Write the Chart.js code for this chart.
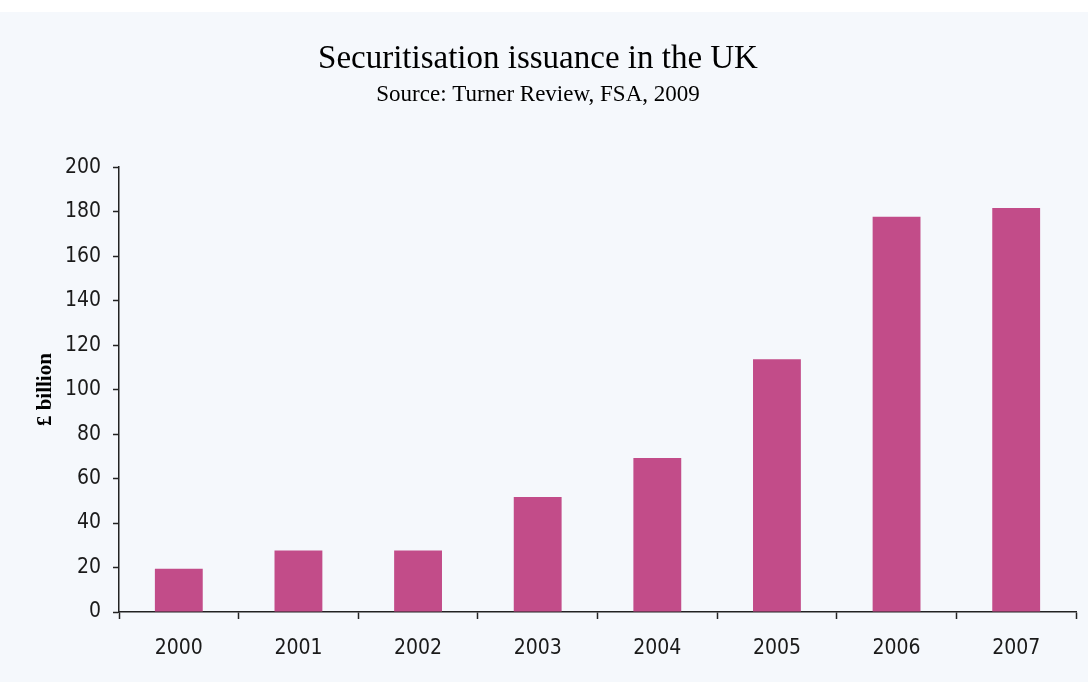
<!DOCTYPE html>
<html>
<head>
<meta charset="utf-8">
<script src="https://cdn.jsdelivr.net/npm/chart.js@4"></script>
<style>
  html, body { margin: 0; padding: 0; background: #ffffff; }
  #wrap { width: 1088px; height: 682px; }
</style>
</head>
<body>
<div id="wrap"><canvas id="issuanceChart" width="1088" height="682"></canvas></div>
<script>
"use strict";

// Chart data
const YEARS = ['2000', '2001', '2002', '2003', '2004', '2005', '2006', '2007'];
const ISSUANCE = [19.5, 27.6, 27.6, 51.7, 69.2, 113.7, 177.7, 181.6];
const Y_TICKS = [0, 20, 40, 60, 80, 100, 120, 140, 160, 180, 200];

const BAR_COLOR = '#c24c89';
const PANEL_BG = '#f5f8fc';
const SERIF = '"Liberation Serif", "DejaVu Serif", serif';
const TICK_FONT = { family: '"Liberation Sans Narrow", "DejaVu Sans Condensed", "Liberation Sans", sans-serif', size: 21 };

// Light panel behind the chart, leaving a white strip on top
const panelBackground = {
    id: 'panelBackground',
    beforeDraw: chart => {
        const ctx = chart.ctx;
        ctx.save();
        ctx.fillStyle = PANEL_BG;
        ctx.fillRect(0, 12, chart.width, chart.height - 12);
        ctx.restore();
    }
};

const issuanceChart = new Chart(document.getElementById('issuanceChart').getContext('2d'), {
    type: 'bar',
    data: {
        labels: YEARS,
        datasets: [{
            label: 'Securitisation issuance',
            data: ISSUANCE,
            backgroundColor: BAR_COLOR,
            borderWidth: 0,
            barPercentage: 0.4,
            categoryPercentage: 1.0
        }]
    },
    options: {
        responsive: false,
        animation: false,
        layout: { padding: { left: 0, right: 12, top: 0, bottom: 0 } },
        plugins: {
            legend: { display: false },
            tooltip: { enabled: false },
            title: {
                display: true,
                text: 'Securitisation issuance in the UK',
                color: '#000',
                font: { family: SERIF, size: 33, weight: 'normal', lineHeight: 1.2 },
                padding: { top: 40, bottom: 0 }
            },
            subtitle: {
                display: true,
                text: 'Source: Turner Review, FSA, 2009',
                color: '#000',
                font: { family: SERIF, size: 23, weight: 'normal', lineHeight: 1.2 },
                padding: { top: 2, bottom: 58 }
            }
        },
        scales: {
            x: {
                offset: true,
                grid: {
                    offset: true,
                    drawOnChartArea: false,
                    drawTicks: true,
                    tickLength: 7,
                    tickWidth: 1.5,
                    tickColor: '#222'
                },
                border: { display: true, color: '#222', width: 1.5 },
                ticks: { color: '#1a1a1a', font: TICK_FONT, padding: 17, maxRotation: 0 },
                afterFit: scale => { scale.height = 70; }
            },
            y: {
                min: 0,
                max: 200,
                afterBuildTicks: scale => { scale.ticks = Y_TICKS.map(v => ({ value: v })); },
                grid: {
                    drawOnChartArea: false,
                    drawTicks: true,
                    tickLength: 6,
                    tickWidth: 1.5,
                    tickColor: '#222'
                },
                border: { display: true, color: '#222', width: 1.5 },
                ticks: { color: '#1a1a1a', font: TICK_FONT, padding: 12 },
                title: {
                    display: true,
                    text: '£ billion',
                    color: '#000',
                    font: { family: SERIF, size: 21, weight: 'bold', lineHeight: 1.2 },
                    padding: { top: 33, bottom: 0 }
                },
                afterFit: scale => { scale.width = 119; }
            }
        }
    },
    plugins: [panelBackground]
});
</script>
</body>
</html>
